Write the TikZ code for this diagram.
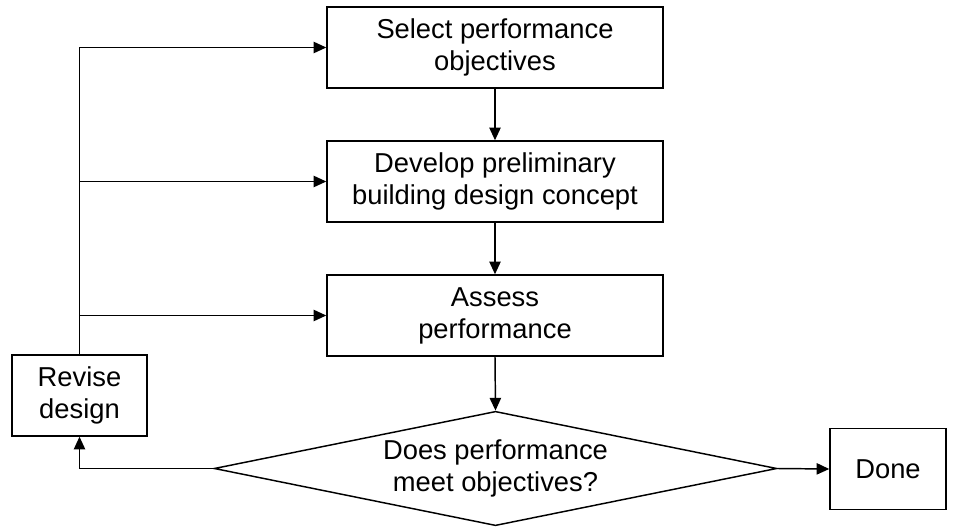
\documentclass[tikz,border=0pt]{standalone}
\usepackage{fontspec}
\setmainfont{Liberation Sans}
\usetikzlibrary{shapes.geometric,arrows.meta}

\begin{document}
\begin{tikzpicture}[x=0.75pt,y=-0.75pt,
  every node/.style={font=\fontsize{20.5pt}{24pt}\selectfont, align=center, inner sep=0pt},
  procbox/.style={draw, line width=1.1pt, rectangle, minimum width=252pt, minimum height=60.75pt},
  smallbox/.style={draw, line width=1.1pt, rectangle, minimum height=60.75pt},
  decision/.style={draw, line width=1.1pt, diamond, aspect=3.95, minimum width=422pt},
  flow/.style={line width=1.1pt, -{Triangle[length=9.5pt,width=8.5pt]}},
  link/.style={line width=1.1pt}]
\useasboundingbox (0,0) rectangle (953,531);

% process steps
\node[procbox] (sel) at (495,47.5) {Select performance\\objectives};
\node[procbox] (dev) at (495,181.5) {Develop preliminary\\building design concept};
\node[procbox] (ass) at (495,315.5) {Assess\\performance};
\node[decision] (dec) at (495.5,468.5) {Does performance\\meet objectives?};
\node[smallbox, minimum width=87pt] (done) at (888,469) {Done};
\node[smallbox, minimum width=101.25pt] (rev) at (79.5,395.5) {Revise\\design};

% main sequence
\draw[flow] (sel.south) -- (dev.north);
\draw[flow] (dev.south) -- (ass.north);
\draw[flow] (ass.south) -- (dec.north);
\draw[flow] (dec.east) -- (done.west);

% revision loop
\draw[flow] (dec.west) -| (rev.south);
\draw[link] (rev.north) -- (rev.north |- sel.west);
\draw[flow] (rev.north |- sel.west) -- (sel.west);
\draw[flow] (rev.north |- dev.west) -- (dev.west);
\draw[flow] (rev.north |- ass.west) -- (ass.west);
\end{tikzpicture}
\end{document}
